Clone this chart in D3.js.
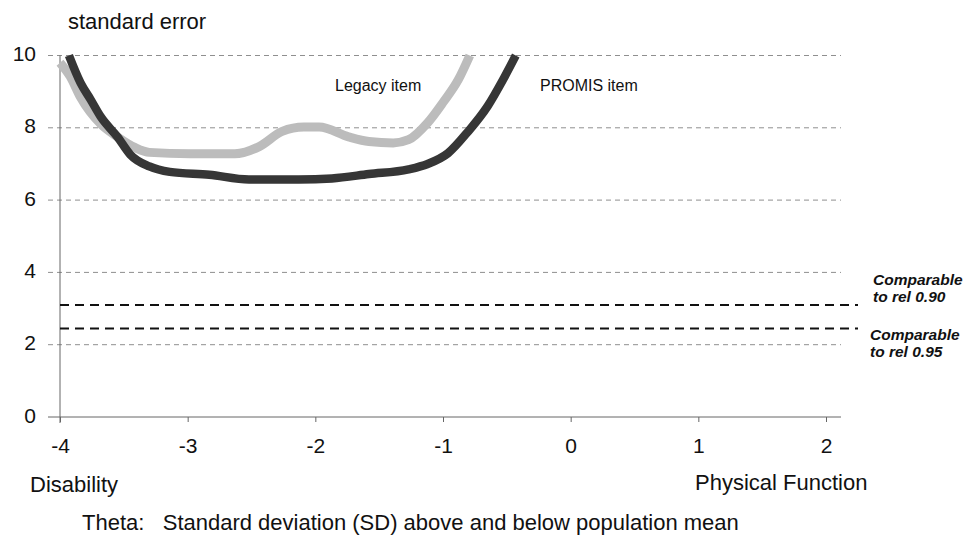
<!DOCTYPE html>
<html>
<head>
<meta charset="utf-8">
<script src="https://cdn.jsdelivr.net/npm/d3@7"></script>
<style>
  body { margin: 0; background: #fff; }
  text { font-family: "Liberation Sans", Arial, sans-serif; fill: #111; }
</style>
</head>
<body>
<svg id="chart"></svg>
<script>
// theta values and standard error
const legacyTheta = [-4.0, -3.92, -3.84, -3.68, -3.55, -3.41, -3.30, -2.98, -2.63, -2.44, -2.26, -2.09, -1.97, -1.74, -1.58, -1.39, -1.27, -1.12, -1.0, -0.88, -0.79];
const legacySE    = [9.8, 9.42, 8.85, 8.1, 7.75, 7.45, 7.32, 7.28, 7.28, 7.48, 7.9, 8.02, 8.02, 7.75, 7.62, 7.58, 7.67, 8.14, 8.7, 9.33, 10];

const promisTheta = [-3.93, -3.84, -3.76, -3.68, -3.55, -3.45, -3.30, -3.14, -2.83, -2.52, -2.13, -1.87, -1.58, -1.27, -1.12, -0.96, -0.81, -0.65, -0.53, -0.43];
const promisSE    = [10, 9.25, 8.78, 8.3, 7.75, 7.26, 6.93, 6.78, 6.7, 6.57, 6.57, 6.6, 6.72, 6.85, 7.0, 7.3, 7.87, 8.6, 9.33, 10];

const refValues = [3.1, 2.45];
const refLabels = [["Comparable", "to rel 0.90"], ["Comparable", "to rel 0.95"]];

const xTicks = [-4, -3, -2, -1, 0, 1, 2];
const yTicks = [0, 2, 4, 6, 8, 10];

const width = 968, height = 536;
const svg = d3.select("#chart").attr("width", width).attr("height", height);

const x = d3.scaleLinear().domain([-4, 2]).range([60, 826]);
const y = d3.scaleLinear().domain([0, 10]).range([417, 55.5]);

// grid lines
svg.append("g")
  .selectAll("line")
  .data(yTicks.filter(d => d > 0))
  .join("line")
  .attr("x1", 48).attr("x2", 841)
  .attr("y1", d => y(d)).attr("y2", d => y(d))
  .attr("stroke", "#8f8f8f")
  .attr("stroke-width", 1)
  .attr("stroke-dasharray", "5,4");

// y axis line
svg.append("line")
  .attr("x1", x(-4)).attr("x2", x(-4))
  .attr("y1", y(10)).attr("y2", y(0) + 6)
  .attr("stroke", "#666").attr("stroke-width", 1);

// x axis
const xAxis = svg.append("g").attr("transform", `translate(0,${y(0)})`)
  .call(d3.axisBottom(x).tickValues(xTicks).tickSize(5).tickFormat(d3.format("d")));
xAxis.select(".domain").remove();
xAxis.selectAll(".tick line").attr("stroke", "#666");
xAxis.selectAll(".tick text")
  .attr("font-size", 21).attr("fill", "#111")
  .attr("y", 36).attr("dy", 0)
  .text(d => d < 0 ? "-" + Math.abs(d) : d);
xAxis.append("line").attr("x1", 48).attr("x2", 841).attr("stroke", "#666");

// y tick labels
svg.append("g")
  .selectAll("text")
  .data(yTicks)
  .join("text")
  .attr("x", 36).attr("y", d => y(d) - 2)
  .attr("dy", "0.36em")
  .attr("text-anchor", "end")
  .attr("font-size", 21)
  .text(d => d);

// reference lines
svg.append("g")
  .selectAll("line")
  .data(refValues)
  .join("line")
  .attr("x1", x(-4)).attr("x2", 858)
  .attr("y1", d => y(d)).attr("y2", d => y(d))
  .attr("stroke", "#111").attr("stroke-width", 2)
  .attr("stroke-dasharray", "9,6");

const labelPos = [[873, 285], [870, 340]];
refLabels.forEach((lab, i) => {
  svg.append("text")
    .attr("x", labelPos[i][0]).attr("y", labelPos[i][1])
    .attr("font-size", 15.5)
    .attr("font-weight", "bold").attr("font-style", "italic")
    .selectAll("tspan").data(lab).join("tspan")
    .attr("x", labelPos[i][0]).attr("dy", (d, j) => j ? 17 : 0)
    .text(d => d);
});

// curves
const line = d3.line().x(d => x(d[0])).y(d => y(d[1])).curve(d3.curveMonotoneX);

svg.append("path")
  .datum(d3.zip(legacyTheta, legacySE))
  .attr("fill", "none")
  .attr("stroke", "#bcbcbc")
  .attr("stroke-width", 9)
  .attr("d", line);

svg.append("path")
  .datum(d3.zip(promisTheta, promisSE))
  .attr("fill", "none")
  .attr("stroke", "#363636")
  .attr("stroke-width", 8.5)
  .attr("d", line);

// curve labels
svg.append("text").attr("x", 335).attr("y", 91).attr("font-size", 16).text("Legacy item");
svg.append("text").attr("x", 540).attr("y", 91).attr("font-size", 16).text("PROMIS item");

// titles
svg.append("text").attr("x", 68).attr("y", 29).attr("font-size", 22).text("standard error");
svg.append("text").attr("x", 30).attr("y", 492).attr("font-size", 22).text("Disability");
svg.append("text").attr("x", 695).attr("y", 490).attr("font-size", 22).text("Physical Function");
svg.append("text").attr("x", 82).attr("y", 530).attr("font-size", 22)
  .attr("xml:space", "preserve")
  .text("Theta:   Standard deviation (SD) above and below population mean");
</script>
</body>
</html>
